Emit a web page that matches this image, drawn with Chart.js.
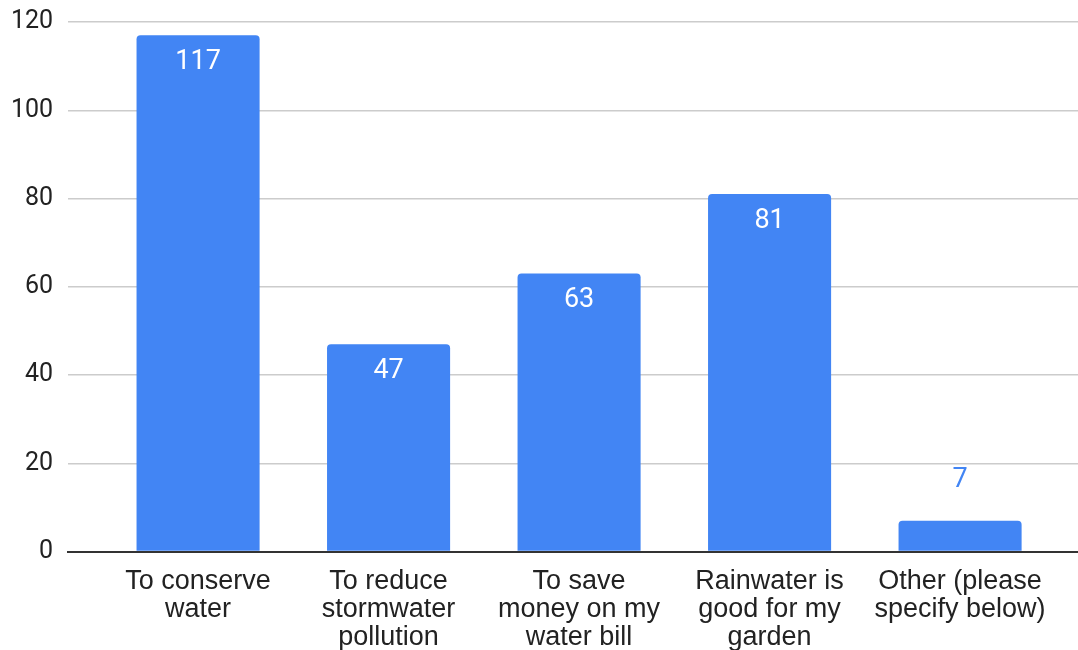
<!DOCTYPE html>
<html>
<head>
<meta charset="utf-8">
<script src="https://cdn.jsdelivr.net/npm/chart.js@4"></script>
<style>
  html, body { margin: 0; padding: 0; background: #fff; }
  #wrap { width: 1078px; height: 650px; }
</style>
</head>
<body>
<div id="wrap"><canvas id="chart" width="1078" height="650"></canvas></div>
<script>
// Reasons for collecting rainwater: number of responses
const categories = [
  ['To conserve', 'water'],
  ['To reduce', 'stormwater', 'pollution'],
  ['To save', 'money on my', 'water bill'],
  ['Rainwater is', 'good for my', 'garden'],
  ['Other (please', 'specify below)']
];
const responses = [117, 47, 63, 81, 7];
const yTicks = [0, 20, 40, 60, 80, 100, 120];

const BLUE = '#4285F4';

// Value labels: white inside tall bars, blue above short ones
const valueLabels = {
  id: 'valueLabels',
  afterDatasetsDraw(chart) {
    const ctx = chart.ctx;
    const meta = chart.getDatasetMeta(0);
    ctx.save();
    ctx.font = '27px Roboto';
    ctx.textAlign = 'center';
    ctx.textBaseline = 'middle';
    meta.data.forEach((bar, i) => {
      const v = responses[i];
      const h = bar.base - bar.y;
      if (h > 60) {
        ctx.fillStyle = '#ffffff';
        ctx.fillText(String(v), bar.x, bar.y + 27);
      } else {
        ctx.fillStyle = BLUE;
        ctx.fillText(String(v), bar.x, bar.y - 40);
      }
    });
    ctx.restore();
  }
};

new Chart(document.getElementById('chart'), {
  type: 'bar',
  data: {
    datasets: [{
      data: responses.map((v, i) => ({ x: i, y: v })),
      backgroundColor: BLUE,
      borderRadius: 4,
      borderSkipped: 'start',
      barPercentage: 0.646,
      categoryPercentage: 1.0
    }]
  },
  options: {
    responsive: false,
    animation: false,
    events: [],
    layout: { padding: { left: -4, top: 22, right: 0, bottom: -17 } },
    plugins: {
      legend: { display: false },
      tooltip: { enabled: false }
    },
    scales: {
      x: {
        type: 'linear',
        offset: false,
        min: -0.682,
        max: 4.619,
        grid: { display: false, drawTicks: false, offset: false },
        border: { display: true, color: '#333333', width: 2 },
        ticks: {
          stepSize: 1,
          includeBounds: false,
          autoSkip: false,
          maxRotation: 0,
          padding: 16,
          color: '#222222',
          font: { family: "'Liberation Sans', Arial, sans-serif", size: 27, lineHeight: 1.03 },
          callback: (value) => Number.isInteger(value) && categories[value] ? categories[value] : ''
        }
      },
      y: {
        min: 0,
        max: 120,
        afterBuildTicks: (axis) => { axis.ticks = yTicks.map(v => ({ value: v })); },
        afterFit: (axis) => { axis.paddingTop = 0; },
        grid: {
          drawTicks: false,
          color: (c) => c.tick && c.tick.value === 0 ? 'rgba(0,0,0,0)' : '#cccccc',
          lineWidth: 1.5
        },
        border: { display: false },
        ticks: {
          padding: 15,
          color: '#222222',
          font: { family: 'Roboto, sans-serif', size: 25 }
        }
      }
    }
  },
  plugins: [valueLabels]
});
</script>
</body>
</html>
